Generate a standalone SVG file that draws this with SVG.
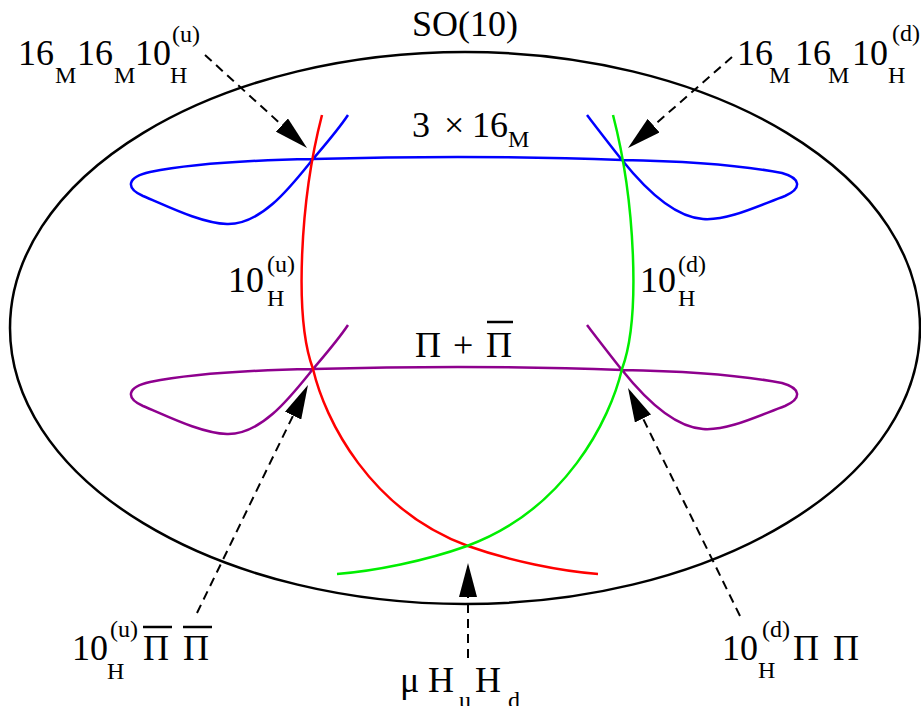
<svg xmlns="http://www.w3.org/2000/svg" width="921" height="706" viewBox="0 0 921 706">
<style>
text{font-family:'Liberation Serif','DejaVu Serif','Times New Roman',serif;font-size:36px;fill:#000}
.s{font-size:24px}
.c{fill:none;stroke-width:2.5;stroke-linecap:butt}
.arr{fill:none;stroke:#000;stroke-width:2;stroke-dasharray:9 6}
.ov{stroke:#000;stroke-width:2.5}
</style>
<defs>
<marker id="ah" viewBox="0 0 34 18" refX="0" refY="9" markerWidth="34" markerHeight="18" markerUnits="userSpaceOnUse" orient="auto">
<path d="M0,0 L34,9 L0,18 z" fill="#000"/>
</marker>
<path id="loop" d="M348,115 C338,130 325,145 313,159 C292,185 262,225 227,224 C200,223 165,205 143,196 C125,188 127,177 150,172 C195,163 255,160 313,159 C420,156 520,156 622,160 C680,161 740,165 782,173 C800,178 803,188 785,196 C760,205 728,221 703,219 C672,217 642,185 622,160 C610,145 597,128 587,115"/>
</defs>
<rect width="921" height="706" fill="#fff"/>
<g id="so10">
<ellipse cx="465" cy="328" rx="455" ry="276" fill="none" stroke="#000" stroke-width="2.5"/>
<text font-family="Liberation Serif, serif" x="412" y="36">SO(10)</text>
</g>
<g id="matter">
<use href="#loop" class="c" stroke="#0000ff"/>
<text font-family="Liberation Serif, serif" x="412" y="137">3<tspan x="444">×</tspan><tspan x="472">16</tspan><tspan class="s" x="508" y="147">M</tspan></text>
</g>
<g id="pi">
<use href="#loop" class="c" stroke="#8e008e" transform="translate(0,210)"/>
<text font-family="Liberation Serif, serif" x="415" y="357">Π<tspan x="453">+</tspan><tspan x="486">Π</tspan></text>
<line class="ov" x1="487" y1="322" x2="513" y2="322"/>
</g>
<g id="higgs-u">
<path class="c" stroke="#ff0000" d="M322,115 C300,200 294,318 313,369 C325,420 370,510 468,546 C510,561 560,571 598,574"/>
<text font-family="Liberation Serif, serif" x="228" y="292">10<tspan class="s" x="267" y="306">H</tspan><tspan class="s" x="267" y="272">(u)</tspan></text>
</g>
<g id="higgs-d">
<path class="c" stroke="#00ee00" d="M613,115 C635,200 641,318 622,369 C610,420 565,510 467,546 C425,561 375,571 337,574"/>
<text font-family="Liberation Serif, serif" x="640" y="292">10<tspan class="s" x="678" y="306">H</tspan><tspan class="s" x="678" y="272">(d)</tspan></text>
</g>
<g id="connectors">
<line class="arr" x1="205" y1="55" x2="281.9" y2="125.1" marker-end="url(#ah)"/>
<line class="arr" x1="732" y1="57" x2="653.6" y2="125.6" marker-end="url(#ah)"/>
<line class="arr" x1="197" y1="613" x2="293.1" y2="415.6" marker-end="url(#ah)"/>
<line class="arr" x1="740" y1="616" x2="643" y2="418.5" marker-end="url(#ah)"/>
<line class="arr" x1="468" y1="658" x2="468" y2="597" marker-end="url(#ah)"/>
</g>
<g id="yuk-u">
<text font-family="Liberation Serif, serif" x="18" y="65">16<tspan class="s" x="55" y="83">M</tspan><tspan x="77" y="65">16</tspan><tspan class="s" x="114" y="83">M</tspan><tspan x="135" y="65">10</tspan><tspan class="s" x="170" y="83">H</tspan><tspan class="s" x="172" y="42">(u)</tspan></text>
</g>
<g id="yuk-d">
<text font-family="Liberation Serif, serif" x="737" y="65">16<tspan class="s" x="769" y="83">M</tspan><tspan x="795" y="65">16</tspan><tspan class="s" x="828" y="83">M</tspan><tspan x="852" y="65">10</tspan><tspan class="s" x="888" y="83">H</tspan><tspan class="s" x="892" y="41">(d)</tspan></text>
</g>
<g id="coup-u">
<text font-family="Liberation Serif, serif" x="72" y="660">10<tspan class="s" x="107" y="679">H</tspan><tspan class="s" x="110" y="637">(u)</tspan><tspan x="143" y="660">Π</tspan><tspan x="183" y="660">Π</tspan></text>
<line class="ov" x1="143" y1="627" x2="172" y2="627"/>
<line class="ov" x1="183" y1="627" x2="212" y2="627"/>
</g>
<g id="coup-d">
<text font-family="Liberation Serif, serif" x="722" y="660">10<tspan class="s" x="758" y="678">H</tspan><tspan class="s" x="762" y="637">(d)</tspan><tspan x="793" y="660">Π</tspan><tspan x="833" y="660">Π</tspan></text>
</g>
<g id="mu">
<text font-family="Liberation Serif, serif" x="400" y="692">μ<tspan x="428">H</tspan><tspan class="s" x="459" y="708">u</tspan><tspan x="475" y="692">H</tspan><tspan class="s" x="508" y="708">d</tspan></text>
</g>
</svg>
